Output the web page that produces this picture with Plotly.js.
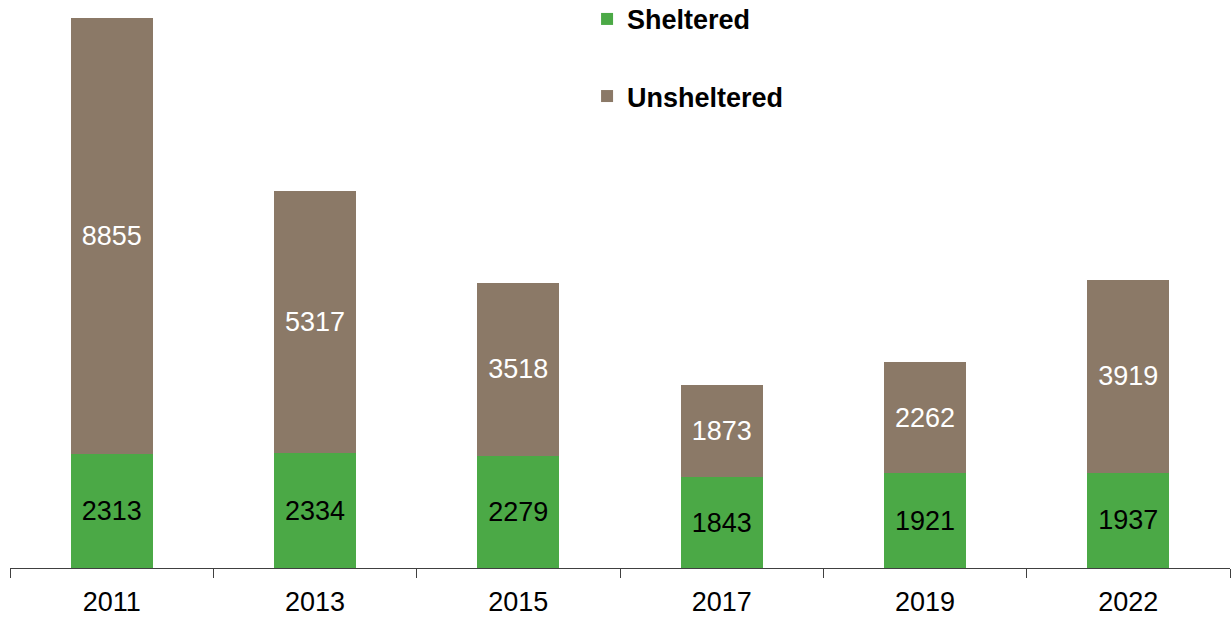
<!DOCTYPE html>
<html>
<head>
<meta charset="utf-8">
<script src="https://cdn.plot.ly/plotly-3.0.1.min.js"></script>
<style>
    html, body { margin: 0; padding: 0; background: #fff; }
    #chart { width: 1231px; height: 619px; }
</style>
</head>
<body>
<div id="chart"></div>
<script>
    // Data
    const years = ['2011', '2013', '2015', '2017', '2019', '2022'];
    const sheltered = [2313, 2334, 2279, 1843, 1921, 1937];
    const unsheltered = [8855, 5317, 3518, 1873, 2262, 3919];

    const GREEN = '#4BA946';
    const BROWN = '#8B7967';
    const FONT = 'Liberation Sans, Arial, sans-serif';

    function barTrace(name, values, color, textColor, group) {
        return {
            type: 'bar',
            name: name,
            x: years,
            y: values,
            text: values.map(String),
            textposition: 'inside',
            insidetextanchor: 'middle',
            constraintext: 'none',
            textfont: { family: FONT, size: 27, color: textColor },
            marker: { color: color, line: { width: 0 } },
            legendgroup: group,
            hoverinfo: 'x+y+name'
        };
    }

    const traces = [
        barTrace('Sheltered', sheltered, GREEN, '#000', 'a'),
        barTrace('Unsheltered', unsheltered, BROWN, '#fff', 'b')
    ];

    const layout = {
        width: 1231,
        height: 619,
        barmode: 'stack',
        bargap: 0.596,
        // fixed margins so the legend does not push the plot area down
        margin: { l: 10, r: 1, t: 0, b: 51, autoexpand: false },
        paper_bgcolor: '#fff',
        plot_bgcolor: '#fff',
        font: { family: FONT, color: '#000' },
        xaxis: {
            type: 'category',
            showline: true,
            linecolor: '#404040',
            linewidth: 1,
            ticks: 'outside',
            tickson: 'boundaries',
            ticklen: 9,
            tickcolor: '#404040',
            ticklabelstandoff: 10,
            tickfont: { family: FONT, size: 27, color: '#000' },
            showgrid: false,
            zeroline: false
        },
        yaxis: {
            range: [0, 11533],
            visible: false,
            showgrid: false,
            zeroline: false
        },
        showlegend: true,
        legend: {
            x: 0.473,
            y: 1.009,
            xanchor: 'left',
            yanchor: 'top',
            traceorder: 'grouped',
            tracegroupgap: 39,
            itemwidth: 30,
            font: { family: FONT, size: 27, color: '#000', weight: 'bold' },
            bgcolor: 'rgba(0,0,0,0)'
        }
    };

    Plotly.newPlot('chart', traces, layout, { displayModeBar: false, staticPlot: true });
</script>
</body>
</html>
